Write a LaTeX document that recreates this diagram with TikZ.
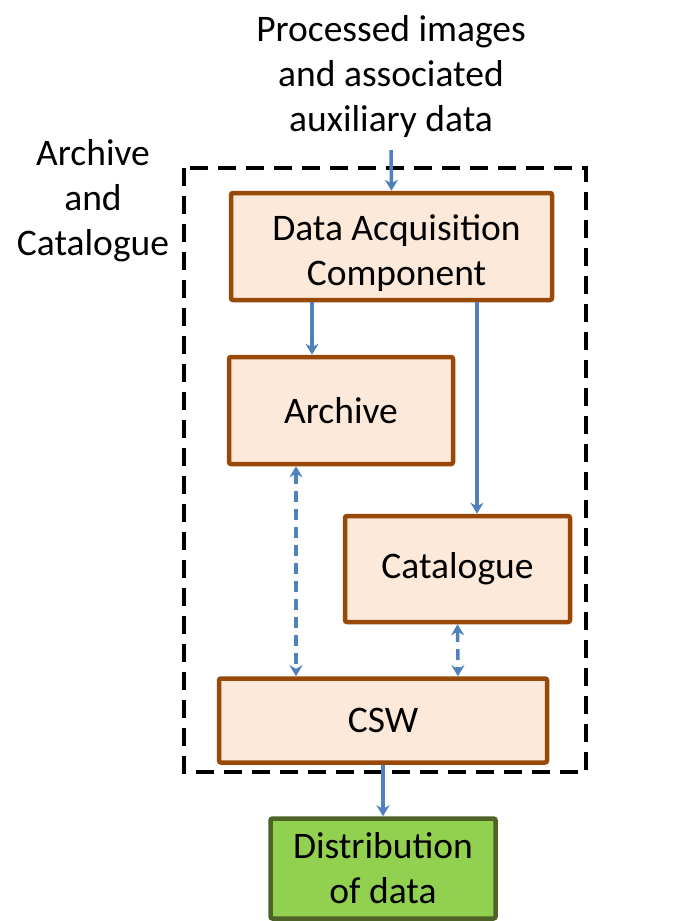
\documentclass[tikz,border=0pt]{standalone}
\usepackage{fontspec}
\setmainfont{Carlito}
\usepackage{xcolor}
\usepackage{tikz}
\usetikzlibrary{arrows.meta}

\definecolor{boxfill}{HTML}{FCE9DA}
\definecolor{boxline}{HTML}{984807}
\definecolor{greenfill}{HTML}{92D050}
\definecolor{greenline}{HTML}{4F6228}
\definecolor{arrowblue}{HTML}{4F81BD}

\begin{document}
\begin{tikzpicture}[x=1pt,y=-1pt,
  font=\fontsize{37.5}{45}\selectfont,
  comp/.style={draw=boxline, fill=boxfill, line width=4.5pt, rounded corners=2pt, inner sep=0pt, align=center},
  distbox/.style={draw=greenline, fill=greenfill, line width=4.5pt, rounded corners=2pt, inner sep=0pt, align=center},
  label/.style={align=center, inner sep=0pt},
  flow/.style={draw=arrowblue, line width=3.5pt, -{Stealth[length=11pt,width=13pt]}},
  link/.style={draw=arrowblue, line width=3.5pt, dash pattern=on 11pt off 7pt, {Stealth[length=11pt,width=13pt]}-{Stealth[length=11pt,width=13pt]}}]
\useasboundingbox (0,0) rectangle (685,921);

% container
\draw[line width=4.5pt, dash pattern=on 18pt off 10pt] (184,168) rectangle (586,772);

\node[label] (title) at (391,76)   {Processed images\\and associated\\auxiliary data};
\node[label] (group) at (93,201)   {Archive\\and\\Catalogue};
\coordinate  (in)    at (391,150);

\node[comp, minimum width=321pt, minimum height=107pt] (dac)  at (391.5,246.5)
  {\hspace*{10pt}\raisebox{-7pt}[\height][\depth]{\begin{tabular}{@{}c@{}}Data Acquisition\\Component\end{tabular}}};
\node[comp, minimum width=224pt, minimum height=107pt] (arch) at (341,410.5)   {Archive};
\node[comp, minimum width=225pt, minimum height=106pt] (cat)  at (457.5,569)   {Catalogue};
\node[comp, minimum width=328pt, minimum height=84pt]  (csw)  at (383,720.5)   {CSW};
\node[distbox, minimum width=225pt, minimum height=100pt] (dist) at (383,868.5) {Distribution\\of data};

\draw[flow] (in) -- (dac.north);
\draw[flow] ([xshift=-79.5pt]dac.south) -- ([xshift=-29pt]arch.north);
\draw[flow] ([xshift=85.5pt]dac.south) -- ([xshift=19.5pt]cat.north);
\draw[flow] (csw.south) -- (dist.north);

\draw[link] ([xshift=-45pt]arch.south) -- ([xshift=-87pt]csw.north);
\draw[link] (cat.south) -- ([xshift=75pt]csw.north);
\end{tikzpicture}
\end{document}
